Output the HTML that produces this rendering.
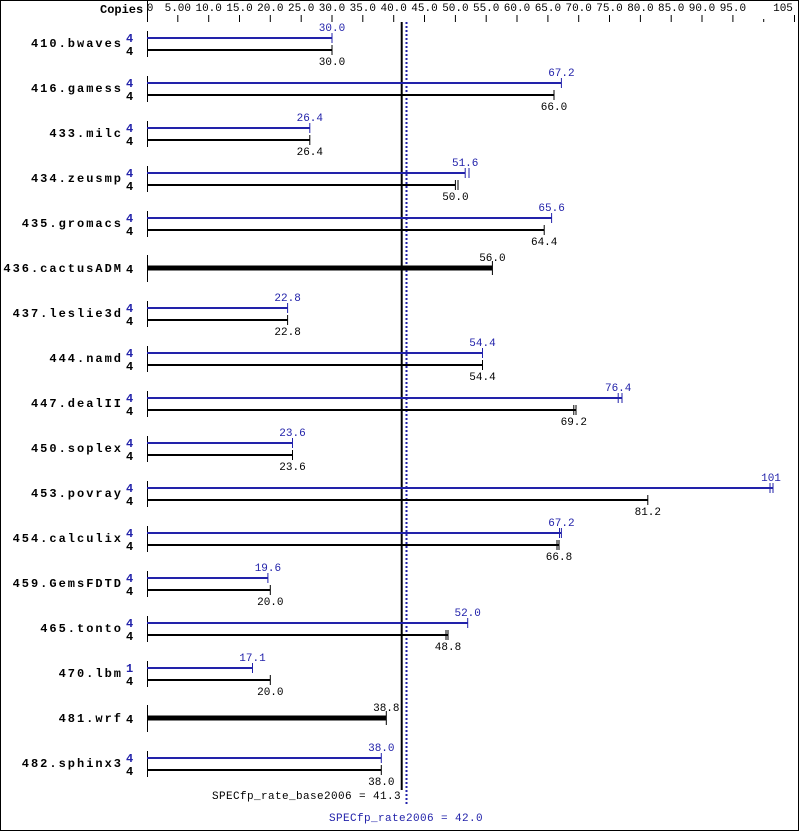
<!DOCTYPE html>
<html><head><meta charset="utf-8"><style>
body{margin:0;background:#fff}
svg{display:block}
text{font-family:"Liberation Mono",monospace;font-size:11px}
g.n text{font-family:"Liberation Mono",monospace;font-weight:bold;font-size:12px;letter-spacing:2px}
text.c{font-family:"Liberation Mono",monospace;font-weight:bold;font-size:12px}
text.q{font-family:"Liberation Mono",monospace;font-weight:bold;font-size:12px}
text.w{letter-spacing:0.4px}
.b{fill:#2222aa}
</style></head><body>
<svg width="799" height="831" viewBox="0 0 799 831" xmlns="http://www.w3.org/2000/svg">
<rect x="0.5" y="0.5" width="798" height="830" fill="#fff" stroke="#000"/>
<text x="100" y="13" class="c">Copies</text>
<line x1="147.5" y1="0" x2="147.5" y2="22" stroke="#000"/>
<g font-size="11" text-anchor="middle">
<text x="150" y="11">0</text>
<text x="177.8" y="11">5.00</text><text x="208.7" y="11">10.0</text><text x="239.5" y="11">15.0</text><text x="270.3" y="11">20.0</text><text x="301.2" y="11">25.0</text><text x="332" y="11">30.0</text><text x="362.8" y="11">35.0</text><text x="393.7" y="11">40.0</text><text x="424.5" y="11">45.0</text><text x="455.4" y="11">50.0</text><text x="486.2" y="11">55.0</text><text x="517" y="11">60.0</text><text x="547.9" y="11">65.0</text><text x="578.7" y="11">70.0</text><text x="609.5" y="11">75.0</text><text x="640.4" y="11">80.0</text><text x="671.2" y="11">85.0</text><text x="702" y="11">90.0</text><text x="732.9" y="11">95.0</text><text x="783" y="11">105</text>
</g>
<g stroke="#000">
<line x1="177.8" y1="15" x2="177.8" y2="22"/><line x1="208.7" y1="15" x2="208.7" y2="22"/><line x1="239.5" y1="15" x2="239.5" y2="22"/><line x1="270.3" y1="15" x2="270.3" y2="22"/><line x1="301.2" y1="15" x2="301.2" y2="22"/><line x1="332" y1="15" x2="332" y2="22"/><line x1="362.8" y1="15" x2="362.8" y2="22"/><line x1="393.7" y1="15" x2="393.7" y2="22"/><line x1="424.5" y1="15" x2="424.5" y2="22"/><line x1="455.4" y1="15" x2="455.4" y2="22"/><line x1="486.2" y1="15" x2="486.2" y2="22"/><line x1="517" y1="15" x2="517" y2="22"/><line x1="547.9" y1="15" x2="547.9" y2="22"/><line x1="578.7" y1="15" x2="578.7" y2="22"/><line x1="609.5" y1="15" x2="609.5" y2="22"/><line x1="640.4" y1="15" x2="640.4" y2="22"/><line x1="671.2" y1="15" x2="671.2" y2="22"/><line x1="702" y1="15" x2="702" y2="22"/><line x1="732.9" y1="15" x2="732.9" y2="22"/><line x1="763.7" y1="19" x2="763.7" y2="22"/><line x1="794.5" y1="15" x2="794.5" y2="22"/>
</g>
<line x1="401.7" y1="22" x2="401.7" y2="790" stroke="#000" stroke-width="2"/>
<line x1="406.5" y1="22" x2="406.5" y2="805" stroke="#2222aa" stroke-width="2" stroke-dasharray="2,2"/>
<text x="401" y="799" text-anchor="end" class="w">SPECfp_rate_base2006 = 41.3</text>
<text x="406" y="821" text-anchor="middle" class="b w">SPECfp_rate2006 = 42.0</text>

<g text-anchor="end" class="n">
<text x="123" y="47">410.bwaves</text><text x="123" y="92">416.gamess</text><text x="123" y="137">433.milc</text><text x="123" y="182">434.zeusmp</text><text x="123" y="227">435.gromacs</text><text x="123" y="272">436.cactusADM</text><text x="123" y="317">437.leslie3d</text><text x="123" y="362">444.namd</text><text x="123" y="407">447.dealII</text><text x="123" y="452">450.soplex</text><text x="123" y="497">453.povray</text><text x="123" y="542">454.calculix</text><text x="123" y="587">459.GemsFDTD</text><text x="123" y="632">465.tonto</text><text x="123" y="677">470.lbm</text><text x="123" y="722">481.wrf</text><text x="123" y="767">482.sphinx3</text>
</g>

<g>
<g transform="translate(0,0)"><text x="126" y="42" class="q b">4</text><text x="126" y="55" class="q">4</text><line x1="147.5" y1="31" x2="147.5" y2="57" stroke="#000"/><line x1="147" y1="38" x2="332" y2="38" stroke="#2222aa" stroke-width="2"/><line x1="332" y1="33" x2="332" y2="43" stroke="#2222aa"/><line x1="147" y1="50" x2="332" y2="50" stroke="#000" stroke-width="2"/><line x1="332" y1="45" x2="332" y2="55" stroke="#000"/><text x="332" y="31" text-anchor="middle" class="b">30.0</text><text x="332" y="65" text-anchor="middle">30.0</text></g>
<g transform="translate(0,45)"><text x="126" y="42" class="q b">4</text><text x="126" y="55" class="q">4</text><line x1="147.5" y1="31" x2="147.5" y2="57" stroke="#000"/><line x1="147" y1="38" x2="561.4" y2="38" stroke="#2222aa" stroke-width="2"/><line x1="561.4" y1="33" x2="561.4" y2="43" stroke="#2222aa"/><line x1="147" y1="50" x2="554" y2="50" stroke="#000" stroke-width="2"/><line x1="554" y1="45" x2="554" y2="55" stroke="#000"/><text x="561.4" y="31" text-anchor="middle" class="b">67.2</text><text x="554" y="65" text-anchor="middle">66.0</text></g>
<g transform="translate(0,90)"><text x="126" y="42" class="q b">4</text><text x="126" y="55" class="q">4</text><line x1="147.5" y1="31" x2="147.5" y2="57" stroke="#000"/><line x1="147" y1="38" x2="309.8" y2="38" stroke="#2222aa" stroke-width="2"/><line x1="309.8" y1="33" x2="309.8" y2="43" stroke="#2222aa"/><line x1="147" y1="50" x2="309.8" y2="50" stroke="#000" stroke-width="2"/><line x1="309.8" y1="45" x2="309.8" y2="55" stroke="#000"/><text x="309.8" y="31" text-anchor="middle" class="b">26.4</text><text x="309.8" y="65" text-anchor="middle">26.4</text></g>
<g transform="translate(0,135)"><text x="126" y="42" class="q b">4</text><text x="126" y="55" class="q">4</text><line x1="147.5" y1="31" x2="147.5" y2="57" stroke="#000"/><line x1="147" y1="38" x2="465.2" y2="38" stroke="#2222aa" stroke-width="2"/><line x1="465.2" y1="33" x2="465.2" y2="43" stroke="#2222aa"/><line x1="469" y1="33" x2="469" y2="43" stroke="#2222aa"/><line x1="147" y1="50" x2="455.4" y2="50" stroke="#000" stroke-width="2"/><line x1="455.4" y1="45" x2="455.4" y2="55" stroke="#000"/><line x1="458" y1="45" x2="458" y2="55" stroke="#000"/><text x="465.2" y="31" text-anchor="middle" class="b">51.6</text><text x="455.4" y="65" text-anchor="middle">50.0</text></g>
<g transform="translate(0,180)"><text x="126" y="42" class="q b">4</text><text x="126" y="55" class="q">4</text><line x1="147.5" y1="31" x2="147.5" y2="57" stroke="#000"/><line x1="147" y1="38" x2="551.6" y2="38" stroke="#2222aa" stroke-width="2"/><line x1="551.6" y1="33" x2="551.6" y2="43" stroke="#2222aa"/><line x1="147" y1="50" x2="544.2" y2="50" stroke="#000" stroke-width="2"/><line x1="544.2" y1="45" x2="544.2" y2="55" stroke="#000"/><text x="551.6" y="31" text-anchor="middle" class="b">65.6</text><text x="544.2" y="65" text-anchor="middle">64.4</text></g>
<g transform="translate(0,225)"><text x="126" y="48" class="q">4</text><line x1="147.5" y1="30" x2="147.5" y2="57" stroke="#000"/><line x1="147" y1="43" x2="492.4" y2="43" stroke="#000" stroke-width="5"/><line x1="492.4" y1="36" x2="492.4" y2="50" stroke="#000"/><text x="492.4" y="36" text-anchor="middle">56.0</text></g>
<g transform="translate(0,270)"><text x="126" y="42" class="q b">4</text><text x="126" y="55" class="q">4</text><line x1="147.5" y1="31" x2="147.5" y2="57" stroke="#000"/><line x1="147" y1="38" x2="287.6" y2="38" stroke="#2222aa" stroke-width="2"/><line x1="287.6" y1="33" x2="287.6" y2="43" stroke="#2222aa"/><line x1="147" y1="50" x2="287.6" y2="50" stroke="#000" stroke-width="2"/><line x1="287.6" y1="45" x2="287.6" y2="55" stroke="#000"/><text x="287.6" y="31" text-anchor="middle" class="b">22.8</text><text x="287.6" y="65" text-anchor="middle">22.8</text></g>
<g transform="translate(0,315)"><text x="126" y="42" class="q b">4</text><text x="126" y="55" class="q">4</text><line x1="147.5" y1="31" x2="147.5" y2="57" stroke="#000"/><line x1="147" y1="38" x2="482.5" y2="38" stroke="#2222aa" stroke-width="2"/><line x1="482.5" y1="33" x2="482.5" y2="43" stroke="#2222aa"/><line x1="147" y1="50" x2="482.5" y2="50" stroke="#000" stroke-width="2"/><line x1="482.5" y1="45" x2="482.5" y2="55" stroke="#000"/><text x="482.5" y="31" text-anchor="middle" class="b">54.4</text><text x="482.5" y="65" text-anchor="middle">54.4</text></g>
<g transform="translate(0,360)"><text x="126" y="42" class="q b">4</text><text x="126" y="55" class="q">4</text><line x1="147.5" y1="31" x2="147.5" y2="57" stroke="#000"/><line x1="147" y1="38" x2="622" y2="38" stroke="#2222aa" stroke-width="2"/><line x1="618.2" y1="33" x2="618.2" y2="43" stroke="#2222aa"/><line x1="622" y1="33" x2="622" y2="43" stroke="#2222aa"/><line x1="147" y1="50" x2="576" y2="50" stroke="#000" stroke-width="2"/><line x1="573.8" y1="45" x2="573.8" y2="55" stroke="#000"/><line x1="576" y1="45" x2="576" y2="55" stroke="#000"/><text x="618.2" y="31" text-anchor="middle" class="b">76.4</text><text x="573.8" y="65" text-anchor="middle">69.2</text></g>
<g transform="translate(0,405)"><text x="126" y="42" class="q b">4</text><text x="126" y="55" class="q">4</text><line x1="147.5" y1="31" x2="147.5" y2="57" stroke="#000"/><line x1="147" y1="38" x2="292.5" y2="38" stroke="#2222aa" stroke-width="2"/><line x1="292.5" y1="33" x2="292.5" y2="43" stroke="#2222aa"/><line x1="147" y1="50" x2="292.5" y2="50" stroke="#000" stroke-width="2"/><line x1="292.5" y1="45" x2="292.5" y2="55" stroke="#000"/><text x="292.5" y="31" text-anchor="middle" class="b">23.6</text><text x="292.5" y="65" text-anchor="middle">23.6</text></g>
<g transform="translate(0,450)"><text x="126" y="42" class="q b">4</text><text x="126" y="55" class="q">4</text><line x1="147.5" y1="31" x2="147.5" y2="57" stroke="#000"/><line x1="147" y1="38" x2="773" y2="38" stroke="#2222aa" stroke-width="2"/><line x1="770" y1="33" x2="770" y2="43" stroke="#2222aa"/><line x1="773" y1="33" x2="773" y2="43" stroke="#2222aa"/><line x1="147" y1="50" x2="647.8" y2="50" stroke="#000" stroke-width="2"/><line x1="647.8" y1="45" x2="647.8" y2="55" stroke="#000"/><text x="771" y="31" text-anchor="middle" class="b">101</text><text x="647.8" y="65" text-anchor="middle">81.2</text></g>
<g transform="translate(0,495)"><text x="126" y="42" class="q b">4</text><text x="126" y="55" class="q">4</text><line x1="147.5" y1="31" x2="147.5" y2="57" stroke="#000"/><line x1="147" y1="38" x2="561.4" y2="38" stroke="#2222aa" stroke-width="2"/><line x1="559.5" y1="33" x2="559.5" y2="43" stroke="#2222aa"/><line x1="561.4" y1="33" x2="561.4" y2="43" stroke="#2222aa"/><line x1="147" y1="50" x2="559" y2="50" stroke="#000" stroke-width="2"/><line x1="557" y1="45" x2="557" y2="55" stroke="#000"/><line x1="559" y1="45" x2="559" y2="55" stroke="#000"/><text x="561.4" y="31" text-anchor="middle" class="b">67.2</text><text x="559" y="65" text-anchor="middle">66.8</text></g>
<g transform="translate(0,540)"><text x="126" y="42" class="q b">4</text><text x="126" y="55" class="q">4</text><line x1="147.5" y1="31" x2="147.5" y2="57" stroke="#000"/><line x1="147" y1="38" x2="267.9" y2="38" stroke="#2222aa" stroke-width="2"/><line x1="267.9" y1="33" x2="267.9" y2="43" stroke="#2222aa"/><line x1="147" y1="50" x2="270.3" y2="50" stroke="#000" stroke-width="2"/><line x1="270.3" y1="45" x2="270.3" y2="55" stroke="#000"/><text x="267.9" y="31" text-anchor="middle" class="b">19.6</text><text x="270.3" y="65" text-anchor="middle">20.0</text></g>
<g transform="translate(0,585)"><text x="126" y="42" class="q b">4</text><text x="126" y="55" class="q">4</text><line x1="147.5" y1="31" x2="147.5" y2="57" stroke="#000"/><line x1="147" y1="38" x2="467.7" y2="38" stroke="#2222aa" stroke-width="2"/><line x1="467.7" y1="33" x2="467.7" y2="43" stroke="#2222aa"/><line x1="147" y1="50" x2="448" y2="50" stroke="#000" stroke-width="2"/><line x1="446" y1="45" x2="446" y2="55" stroke="#000"/><line x1="448" y1="45" x2="448" y2="55" stroke="#000"/><text x="467.7" y="31" text-anchor="middle" class="b">52.0</text><text x="448" y="65" text-anchor="middle">48.8</text></g>
<g transform="translate(0,630)"><text x="126" y="42" class="q b">1</text><text x="126" y="55" class="q">4</text><line x1="147.5" y1="31" x2="147.5" y2="57" stroke="#000"/><line x1="147" y1="38" x2="252.5" y2="38" stroke="#2222aa" stroke-width="2"/><line x1="252.5" y1="33" x2="252.5" y2="43" stroke="#2222aa"/><line x1="147" y1="50" x2="270.3" y2="50" stroke="#000" stroke-width="2"/><line x1="270.3" y1="45" x2="270.3" y2="55" stroke="#000"/><text x="252.5" y="31" text-anchor="middle" class="b">17.1</text><text x="270.3" y="65" text-anchor="middle">20.0</text></g>
<g transform="translate(0,675)"><text x="126" y="48" class="q">4</text><line x1="147.5" y1="30" x2="147.5" y2="57" stroke="#000"/><line x1="147" y1="43" x2="386.3" y2="43" stroke="#000" stroke-width="5"/><line x1="386.3" y1="36" x2="386.3" y2="50" stroke="#000"/><text x="386.3" y="36" text-anchor="middle">38.8</text></g>
<g transform="translate(0,720)"><text x="126" y="42" class="q b">4</text><text x="126" y="55" class="q">4</text><line x1="147.5" y1="31" x2="147.5" y2="57" stroke="#000"/><line x1="147" y1="38" x2="381.3" y2="38" stroke="#2222aa" stroke-width="2"/><line x1="381.3" y1="33" x2="381.3" y2="43" stroke="#2222aa"/><line x1="147" y1="50" x2="381.3" y2="50" stroke="#000" stroke-width="2"/><line x1="381.3" y1="45" x2="381.3" y2="55" stroke="#000"/><text x="381.3" y="31" text-anchor="middle" class="b">38.0</text><text x="381.3" y="65" text-anchor="middle">38.0</text></g>
</g>
</svg>
</body></html>
